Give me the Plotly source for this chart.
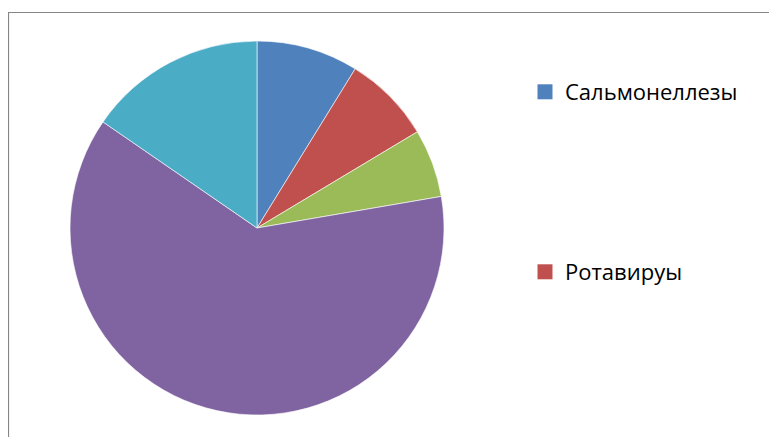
import plotly.graph_objects as go

labels = ["Сальмонеллезы", "Ротавируы", "Эшерихиозы", "Неустановленной этиологии", "Прочие"]
values = [8.8, 7.6, 5.9, 62.3, 15.4]
colors = ["#4F81BD", "#C0504D", "#9BBB59", "#8064A2", "#4BACC6"]
legend_labels = ["Сальмонеллезы", "Ротавируы"]
legend_colors = ["#4F81BD", "#C0504D"]

W, H = 777, 437
# the page body adds an 8px offset; positions below are in figure pixels
cx, cy, r = 249, 220, 187

fig = go.Figure()
fig.add_trace(go.Pie(
    labels=labels, values=values, sort=False, direction="clockwise", rotation=0,
    marker=dict(colors=colors, line=dict(color="white", width=0.6)),
    textinfo="none", hoverinfo="label+value", showlegend=False,
    domain=dict(x=[(cx - r) / W, (cx + r) / W], y=[1 - (cy + r) / H, 1 - (cy - r) / H]),
))
for i, (name, col) in enumerate(zip(legend_labels, legend_colors)):
    fig.add_trace(go.Scatter(
        x=[None], y=[None], mode="markers", name=name,
        marker=dict(symbol="square", size=15, color=col),
        legend="legend" if i == 0 else "legend2",
    ))

legend_style = dict(font=dict(family="Open Sans", size=22, color="#000000"),
                    bgcolor="rgba(0,0,0,0)", xanchor="left", yanchor="middle",
                    itemwidth=30, borderwidth=0)
fig.update_layout(
    width=W, height=H, margin=dict(l=0, r=0, t=0, b=0),
    paper_bgcolor="white", plot_bgcolor="white",
    xaxis=dict(visible=False), yaxis=dict(visible=False),
    legend=dict(x=517 / W, y=1 - 84 / H, **legend_style),
    legend2=dict(x=517 / W, y=1 - 264 / H, **legend_style),
    shapes=[dict(type="rect", xref="paper", yref="paper",
                 x0=0.5 / W, x1=1.05, y0=-0.05, y1=1 - 4.5 / H,
                 line=dict(color="#868686", width=1.2), fillcolor="rgba(0,0,0,0)", layer="below")],
)
fig.write_html("out.html")
